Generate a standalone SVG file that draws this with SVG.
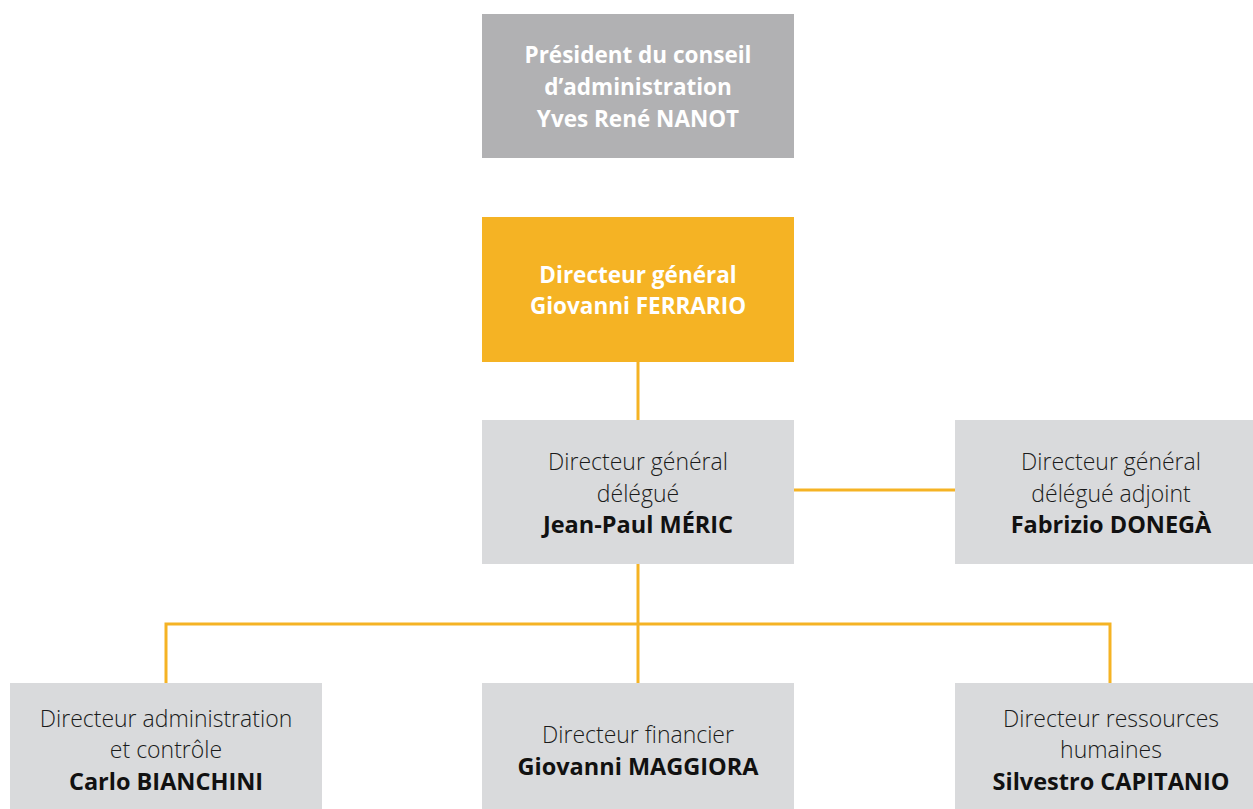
<svg xmlns="http://www.w3.org/2000/svg" width="1253" height="809" viewBox="0 0 1253 809">
<style>
.t{font-family:"Open Sans","Noto Sans","Liberation Sans",sans-serif;font-size:22.5px;text-anchor:middle}
.l{font-weight:300;fill:#1a1a1a;font-size:23px}
.b{font-weight:700;fill:#111;font-size:23.5px}
.w{font-weight:700;fill:#fff}
.box{fill:#D9DADC}
.c{stroke:#F5B324;stroke-width:3;fill:none}
</style>
<rect width="1253" height="809" fill="#fff"/>
<g id="connectors">
<line class="c" x1="638" y1="361" x2="638" y2="421"/>
<line class="c" x1="793" y1="490" x2="956" y2="490"/>
<line class="c" x1="638" y1="563" x2="638" y2="684"/>
<polyline class="c" points="166,684 166,624 1110,624 1110,684"/>
</g>
<g id="president">
<rect x="482" y="14" width="312" height="144" fill="#B1B1B3"/>
<text class="t w" x="638" y="63">Président du conseil</text>
<text class="t w" x="638" y="95">d’administration</text>
<text class="t w" x="638" y="127">Yves René NANOT</text>
</g>
<g id="dg">
<rect x="482" y="217" width="312" height="145" fill="#F5B324"/>
<text class="t w" x="638" y="283">Directeur général</text>
<text class="t w" x="638" y="314">Giovanni FERRARIO</text>
</g>
<g id="dgd">
<rect class="box" x="482" y="420" width="312" height="144"/>
<text class="t l" x="638" y="470">Directeur général</text>
<text class="t l" x="638" y="502">délégué</text>
<text class="t b" x="638" y="533">Jean-Paul MÉRIC</text>
</g>
<g id="dgda">
<rect class="box" x="955" y="420" width="312" height="144"/>
<text class="t l" x="1111" y="470">Directeur général</text>
<text class="t l" x="1111" y="502">délégué adjoint</text>
<text class="t b" x="1111" y="533">Fabrizio DONEGÀ</text>
</g>
<g id="dac">
<rect class="box" x="10" y="683" width="312" height="126"/>
<text class="t l" x="166" y="727">Directeur administration</text>
<text class="t l" x="166" y="758">et contrôle</text>
<text class="t b" x="166" y="790">Carlo BIANCHINI</text>
</g>
<g id="df">
<rect class="box" x="482" y="683" width="312" height="126"/>
<text class="t l" x="638" y="743">Directeur financier</text>
<text class="t b" x="638" y="775">Giovanni MAGGIORA</text>
</g>
<g id="drh">
<rect class="box" x="955" y="683" width="312" height="126"/>
<text class="t l" x="1111" y="727">Directeur ressources</text>
<text class="t l" x="1111" y="758">humaines</text>
<text class="t b" x="1111" y="790">Silvestro CAPITANIO</text>
</g>
</svg>
